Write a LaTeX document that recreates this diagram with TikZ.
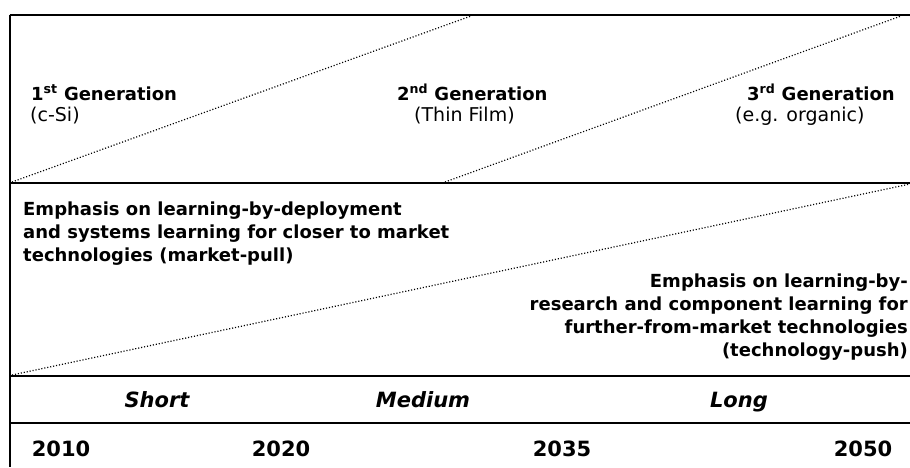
\documentclass[tikz,border=0pt]{standalone}
\usepackage{fontspec}
\setmainfont{DejaVu Sans}
\begin{document}
\begin{tikzpicture}[x=1pt,y=-1pt,
  frame/.style={line width=2pt},
  dots/.style={line width=1.2pt,dash pattern=on 1.1pt off 1.9pt},
  gentitle/.style={anchor=base west,inner sep=0pt,font=\bfseries\fontsize{18}{22}\selectfont},
  gensub/.style={anchor=base west,inner sep=0pt,font=\fontsize{19}{22}\selectfont},
  emph/.style={inner sep=0pt,font=\bfseries\fontsize{18}{23}\selectfont},
  term/.style={anchor=base,inner sep=0pt,font=\bfseries\itshape\fontsize{21}{24}\selectfont},
  year/.style={anchor=base,inner sep=0pt,font=\bfseries\fontsize{21}{24}\selectfont}]
\useasboundingbox (0,0) rectangle (910,467);
% frame
\coordinate (tl) at (9.5,15);
\coordinate (tr) at (910,15);
\coordinate (bl) at (9.5,467);
\coordinate (r1l) at (9.5,183);
\coordinate (r1r) at (910,183);
\coordinate (r2l) at (9.5,376);
\coordinate (r2r) at (910,376);
\coordinate (r3l) at (9.5,423);
\coordinate (r3r) at (910,423);
\draw[frame] (tl) -- (tr);
\draw[frame] (r1l) -- (r1r);
\draw[frame] (r2l) -- (r2r);
\draw[frame] (r3l) -- (r3r);
\draw[frame] (tl) -- (bl);
% dotted diagonals
\coordinate (d1a) at (12,182);
\coordinate (d1b) at (471,16);
\coordinate (d2a) at (445,182);
\coordinate (d2b) at (901,16);
\coordinate (d3a) at (12,375);
\coordinate (d3b) at (910,184);
\draw[dots] (d1a) -- (d1b);
\draw[dots] (d2a) -- (d2b);
\draw[dots] (d3a) -- (d3b);
% generations
\node[gentitle] (g1) at (31,100) {1\textsuperscript{st} Generation};
\node[gensub] (g1s) at (30,121) {(c-Si)};
\node[gentitle] (g2) at (397,100) {2\textsuperscript{nd} Generation};
\node[gensub] (g2s) at (414,121) {(Thin Film)};
\node[gentitle] (g3) at (747,100) {3\textsuperscript{rd} Generation};
\node[gensub] (g3s) at (735,121) {(e.g. organic)};
% emphasis texts
\node[emph,anchor=north west,align=left] (pull) at (23,202) {Emphasis on learning-by-deployment\\and systems learning for closer to market\\technologies (market-pull)};
\node[emph,anchor=north east,align=right] (push) at (908,274) {Emphasis on learning-by-\\research and component learning for\\further-from-market technologies\\(technology-push)};
% terms
\node[term] (short) at (157,407) {Short};
\node[term] (medium) at (423,407) {Medium};
\node[term] (long) at (739,407) {Long};
% years
\node[year] (y1) at (61,456) {2010};
\node[year] (y2) at (281,456) {2020};
\node[year] (y3) at (562,456) {2035};
\node[year] (y4) at (863,456) {2050};
\end{tikzpicture}
\end{document}
